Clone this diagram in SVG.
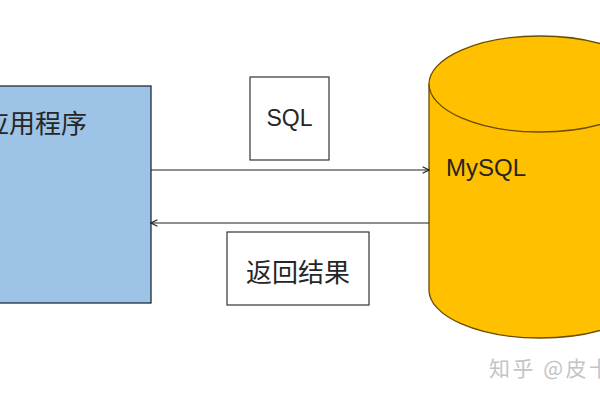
<svg xmlns="http://www.w3.org/2000/svg" width="600" height="400" viewBox="0 0 600 400">
<defs>
<style>
.lbl{font-family:"Liberation Sans","Noto Sans CJK SC",sans-serif;fill:#262626}
.cjk{font-family:"Noto Sans CJK SC","Liberation Sans",sans-serif;fill:#262626}
.box{fill:#fff;stroke:#333;stroke-width:1.2}
.conn{stroke:#222;stroke-width:1.2;fill:none}
</style>
<marker id="arr" viewBox="0 0 10 10" refX="9" refY="5" markerWidth="8" markerHeight="8" markerUnits="userSpaceOnUse" orient="auto">
<path d="M1,1 L9,5 L1,9" fill="none" stroke="#222" stroke-width="1.4"/>
</marker>
</defs>
<rect width="600" height="400" fill="#fff"/>
<g id="app">
<rect x="-5" y="86" width="156" height="217" fill="#9DC3E6" stroke="#1f2b3a" stroke-width="1.3"/>
<text class="cjk" x="-17" y="133" font-size="26">应用程序</text>
</g>
<g id="mysql">
<path d="M429,84 L429,290 A111,48 0 0 0 651,290 L651,84" fill="#FFC000" stroke="#6b4d00" stroke-width="1.3"/>
<ellipse cx="540" cy="84" rx="111" ry="48" fill="#FFC000" stroke="#6b4d00" stroke-width="1.3"/>
<text class="lbl" x="446" y="176" font-size="24">MySQL</text>
</g>
<g id="sql-label">
<rect class="box" x="250" y="77" width="79" height="83"/>
<text class="lbl" x="289.5" y="126" font-size="23" text-anchor="middle">SQL</text>
</g>
<g id="result-label">
<rect class="box" x="227" y="232" width="142" height="73"/>
<text class="cjk" x="298" y="282" font-size="26" text-anchor="middle">返回结果</text>
</g>
<g id="connectors">
<line class="conn" x1="151" y1="170" x2="429" y2="170" marker-end="url(#arr)"/>
<line class="conn" x1="429" y1="223" x2="151" y2="223" marker-end="url(#arr)"/>
</g>
<text x="489" y="376" font-size="21" letter-spacing="2.5" font-family="Noto Sans CJK SC,sans-serif" fill="#c4c4c4">知乎 @皮卡</text>
</svg>
